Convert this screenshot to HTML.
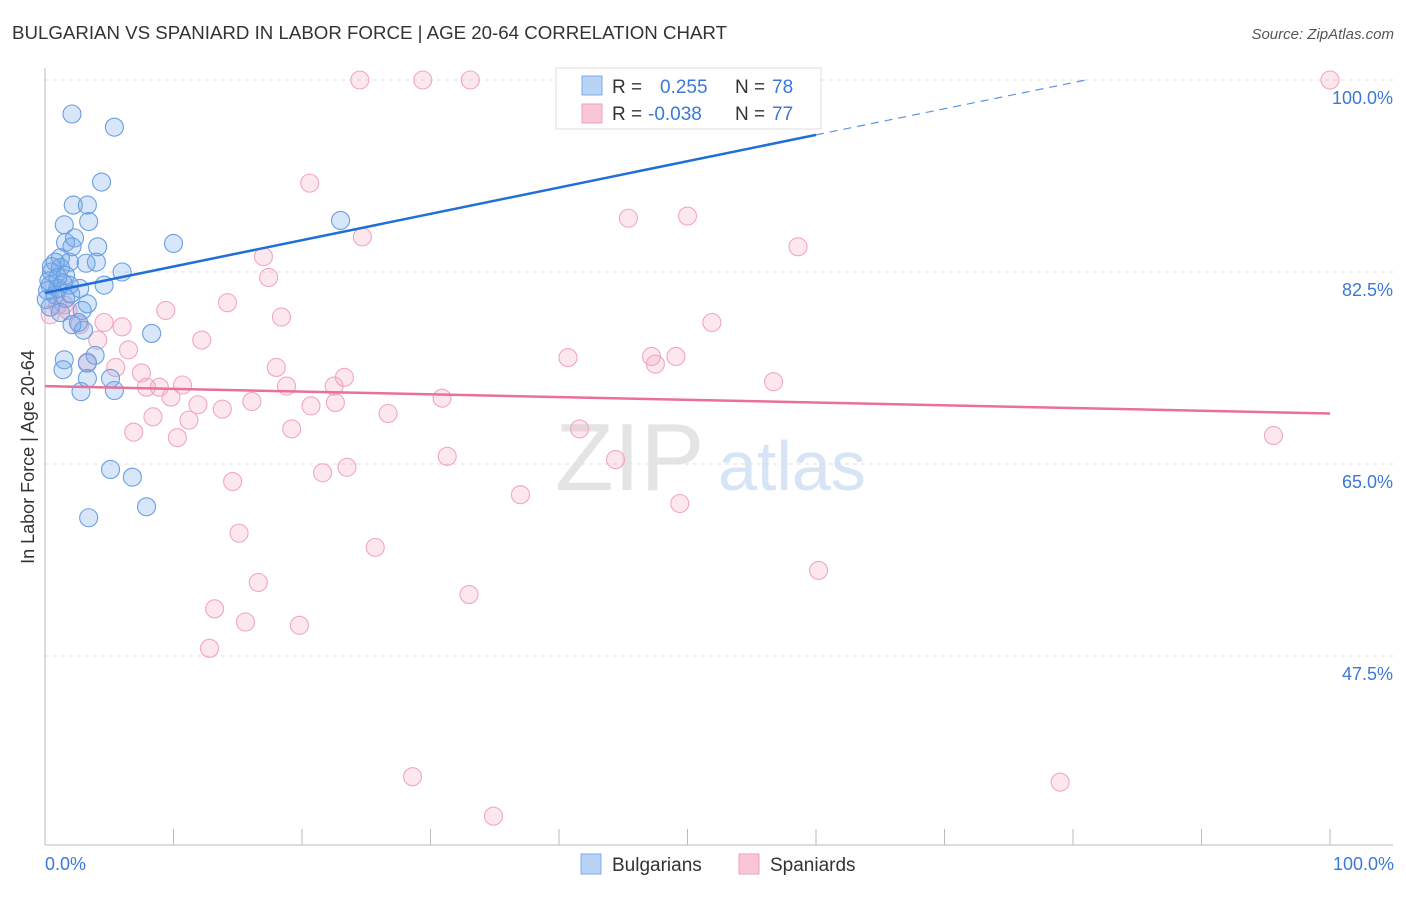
<!DOCTYPE html>
<html><head><meta charset="utf-8"><style>
body{margin:0;background:#fff;font-family:"Liberation Sans",sans-serif;}
svg text{font-family:"Liberation Sans",sans-serif;}
</style></head><body>
<svg id="chart" width="1406" height="892" xmlns="http://www.w3.org/2000/svg">
<text x="12" y="39" font-size="18" fill="#333" textLength="715" lengthAdjust="spacingAndGlyphs">BULGARIAN VS SPANIARD IN LABOR FORCE | AGE 20-64 CORRELATION CHART</text>
<text x="1394" y="39" font-size="15" fill="#555" font-style="italic" text-anchor="end">Source: ZipAtlas.com</text>
<text x="555" y="490" font-size="96" fill="#e4e4e4" font-family="Liberation Serif">ZIP</text>
<text x="718" y="490" font-size="70" fill="#d6e4f5">atlas</text>
<g id="grid"></g>
<g id="axes"></g>
<g id="pts"></g>
<g id="lines"></g>
<text transform="translate(34,457) rotate(-90)" font-size="18" fill="#333" text-anchor="middle">In Labor Force | Age 20-64</text>
<text x="45" y="870" font-size="18" fill="#3b78d8">0.0%</text>
<text x="1394" y="870" font-size="18" fill="#3b78d8" text-anchor="end">100.0%</text>
<g>
<rect x="556" y="68" width="265" height="61" fill="#fff" stroke="#ddd"/>
<rect x="582" y="76" width="20" height="19" fill="#b8d3f5" stroke="#7aaeea"/>
<rect x="582" y="104" width="20" height="19" fill="#f9c6d6" stroke="#f0a0b8"/>
<text x="612" y="93" font-size="19" fill="#333">R =</text>
<text x="660" y="93" font-size="19" fill="#3b78d8">0.255</text>
<text x="735" y="93" font-size="19" fill="#333">N =</text>
<text x="772" y="93" font-size="19" fill="#3b78d8">78</text>
<text x="612" y="120" font-size="19" fill="#333">R =</text>
<text x="648" y="120" font-size="19" fill="#3b78d8">-0.038</text>
<text x="735" y="120" font-size="19" fill="#333">N =</text>
<text x="772" y="120" font-size="19" fill="#3b78d8">77</text>
</g>
<g>
<rect x="581" y="854" width="20" height="20" fill="#b8d3f5" stroke="#7aaeea"/>
<text x="612" y="871" font-size="19" fill="#333">Bulgarians</text>
<rect x="739" y="854" width="20" height="20" fill="#f9c6d6" stroke="#f0a0b8"/>
<text x="770" y="871" font-size="19" fill="#333">Spaniards</text>
</g>
</svg>
<script>
const yTicks=[100,82.5,65,47.5];
const yTickLabels=["100.0%","82.5%","65.0%","47.5%"];
const xTicks=[0,10,20,30,40,50,60,70,80,90,100];
const blueX=[2.1,5.4,4.4,2.2,3.3,1.5,3.4,23.0,10.0,1.6,2.3,4.1,2.1,1.2,1.9,0.8,3.2,4.0,6.0,0.5,1.2,1.6,0.4,1.0,1.9,2.7,4.6,0.8,1.6,3.3,0.4,1.2,2.9,2.6,2.1,8.3,3.0,3.9,1.5,3.3,1.4,3.3,5.1,5.4,2.8,5.1,6.8,7.9,3.4,0.2,0.3,0.5,0.1,1.0,1.4,2.0];
const blueY=[96.9,95.7,90.7,88.6,88.6,86.8,87.1,87.2,85.1,85.2,85.6,84.8,84.8,83.8,83.4,83.4,83.3,83.4,82.5,82.5,82.9,82.2,81.3,81.0,81.3,81.0,81.3,80.4,80.1,79.6,79.3,78.8,79.0,77.9,77.7,76.9,77.2,74.9,74.5,74.2,73.6,72.8,72.8,71.7,71.6,64.5,63.8,61.1,60.1,80.8,81.7,83.0,80.0,82.0,81.5,80.5];
const pinkX=[24.5,29.4,33.1,100,20.6,45.4,50.0,24.7,58.6,17.0,17.4,14.2,9.4,18.4,51.9,4.6,6.0,12.2,4.1,6.5,40.7,47.2,49.1,47.5,18.0,5.5,23.3,7.5,56.7,18.8,22.5,10.7,7.9,8.9,9.8,16.1,22.6,30.9,11.9,13.8,20.7,26.7,8.4,11.2,19.2,41.6,6.9,10.3,95.6,31.3,44.4,23.5,21.6,14.6,37.0,49.4,15.1,25.7,60.2,16.6,33.0,13.2,15.6,19.8,12.8,28.6,79.0,34.9,1.8,2.7,1.0,0.4,3.3,1.5];
const pinkY=[100,100,100,100,90.6,87.4,87.6,85.7,84.8,83.9,82.0,79.7,79.0,78.4,77.9,77.9,77.5,76.3,76.3,75.4,74.7,74.8,74.8,74.1,73.8,73.8,72.9,73.3,72.5,72.1,72.1,72.2,72.0,72.0,71.1,70.7,70.6,71.0,70.4,70.0,70.3,69.6,69.3,69.0,68.2,68.2,67.9,67.4,67.6,65.7,65.4,64.7,64.2,63.4,62.2,61.4,58.7,57.4,55.3,54.2,53.1,51.8,50.6,50.3,48.2,36.5,36.0,32.9,79.0,77.7,79.5,78.6,74.3,79.5];
const blueTrendX=[0,60,81];
const blueTrendY=[80.6,95.0,100];
const pinkTrendX=[0,100];
const pinkTrendY=[72.1,69.6];

const NS="http://www.w3.org/2000/svg";
const X=v=>45+v*12.85;
const Y=v=>80+(100-v)*192/17.5;
function mk(tag,attrs,parent){const e=document.createElementNS(NS,tag);for(const k in attrs)e.setAttribute(k,attrs[k]);parent.appendChild(e);return e;}
const grid=document.getElementById('grid'),axes=document.getElementById('axes'),pts=document.getElementById('pts'),lines=document.getElementById('lines');
yTicks.forEach((t,i)=>{
  const l=mk('line',{x1:45,x2:1393,y1:Y(t),y2:Y(t),stroke:'#ddd','stroke-dasharray':'4,4'},grid);
  
  
  const tx=mk('text',{x:1393,y:Y(t)+24,'font-size':18,fill:'#3b78d8','text-anchor':'end'},grid);
  tx.textContent=yTickLabels[i];
  
  
});
const ax=mk('line',{x1:45,x2:45,y1:68,y2:845,stroke:'#bbb'},axes);


const bx=mk('line',{x1:45,x2:1393,y1:845,y2:845,stroke:'#bbb'},axes);


xTicks.forEach(t=>{
  const k=mk('line',{x1:X(t),x2:X(t),y1:829,y2:845,stroke:'#bbb'},axes);
  
  
});
pinkX.forEach((v,i)=>{
  const c=mk('circle',{cx:X(v),cy:Y(pinkY[i]),r:9,fill:'rgba(244,160,188,0.25)',stroke:'#f2a6bf','stroke-width':1.1},pts);
  
  
});
blueX.forEach((v,i)=>{
  const c=mk('circle',{cx:X(v),cy:Y(blueY[i]),r:9,fill:'rgba(110,165,235,0.28)',stroke:'#6a9fe2','stroke-width':1.1},pts);
  
  
});
const bl=mk('line',{x1:X(blueTrendX[0]),y1:Y(blueTrendY[0]),x2:X(blueTrendX[1]),y2:Y(blueTrendY[1]),stroke:'#1f6fd6','stroke-width':2.5},lines);


const bd=mk('line',{x1:X(blueTrendX[1]),y1:Y(blueTrendY[1]),x2:X(blueTrendX[2]),y2:Y(blueTrendY[2]),stroke:'#5b96e0','stroke-width':1.2,'stroke-dasharray':'8,6'},lines);


const pl=mk('line',{x1:X(pinkTrendX[0]),y1:Y(pinkTrendY[0]),x2:X(pinkTrendX[1]),y2:Y(pinkTrendY[1]),stroke:'#e8709a','stroke-width':2.5},lines);


</script>
</body></html>
